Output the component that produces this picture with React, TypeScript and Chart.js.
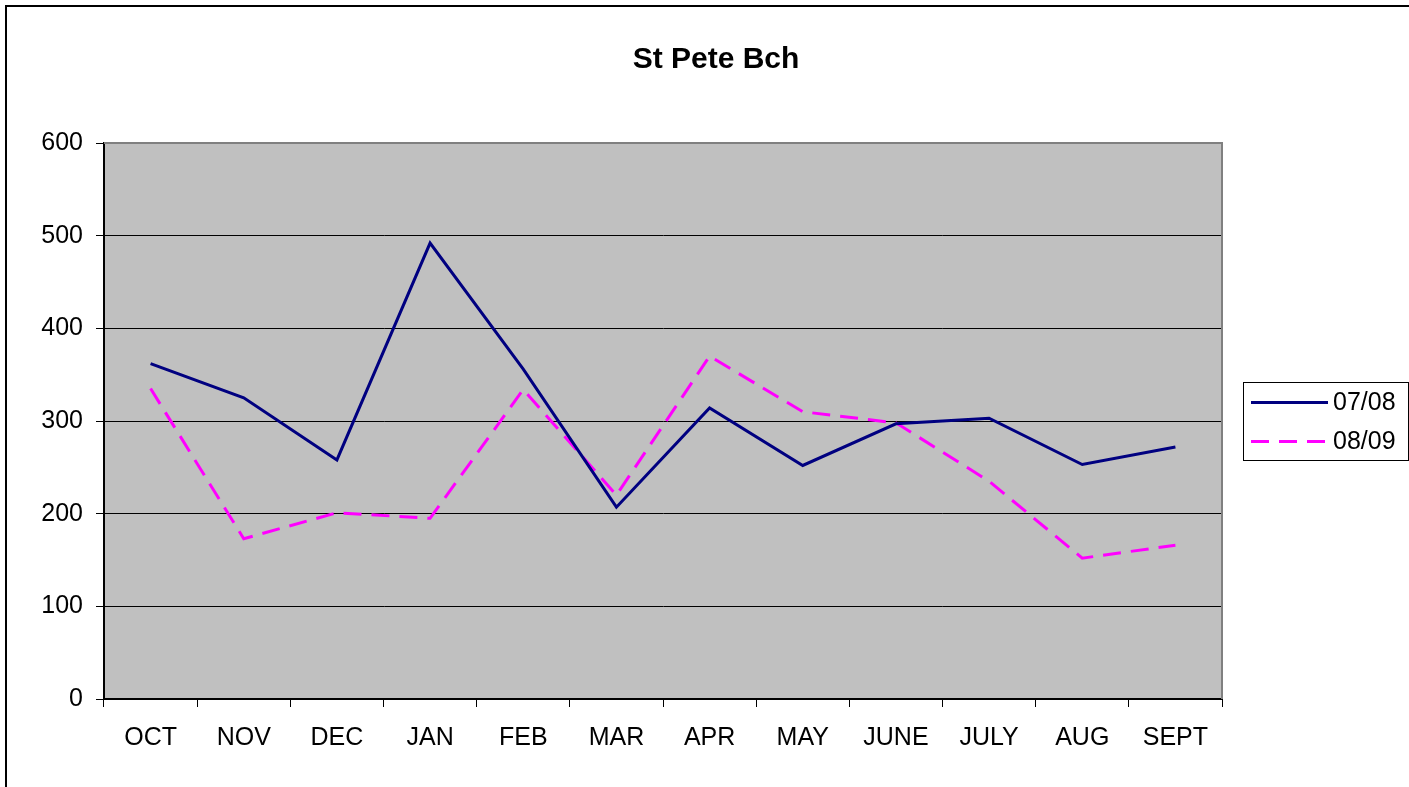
import React, { useEffect, useRef } from 'react';
import { Chart, registerables } from 'chart.js';

Chart.register(...registerables);

const chartTitle = 'St Pete Bch';
const categories = ['OCT', 'NOV', 'DEC', 'JAN', 'FEB', 'MAR', 'APR', 'MAY', 'JUNE', 'JULY', 'AUG', 'SEPT'];
const seriesLabels = ['07/08', '08/09'];
const series0708 = [362, 325, 258, 492, 356, 207, 314, 252, 297, 303, 253, 272];
const series0809 = [335, 173, 201, 195, 334, 220, 370, 310, 298, 235, 152, 166];
const yMin = 0;
const yMax = 600;
const yStep = 100;

const FONT = '"Liberation Sans", Arial, Helvetica, sans-serif';

const framePlugin = {
  id: 'framePlugin',
  beforeDraw(chart: any) {
    const { ctx, chartArea: a } = chart;
    ctx.save();
    ctx.fillStyle = '#ffffff';
    ctx.fillRect(0, 0, chart.width, chart.height);
    // outer chart border
    ctx.strokeStyle = '#000000';
    ctx.lineWidth = 2;
    ctx.beginPath();
    ctx.moveTo(6, chart.height + 4);
    ctx.lineTo(6, 6);
    ctx.lineTo(chart.width + 4, 6);
    ctx.stroke();
    // plot background
    ctx.fillStyle = '#C0C0C0';
    ctx.fillRect(a.left, a.top, a.right - a.left, a.bottom - a.top);
    // title
    ctx.fillStyle = '#000000';
    ctx.font = `bold 30px ${FONT}`;
    ctx.textAlign = 'center';
    ctx.textBaseline = 'alphabetic';
    ctx.fillText(chartTitle, 716, 68);
    ctx.restore();
  },
  beforeDatasetsDraw(chart: any) {
    const { ctx, chartArea: a } = chart;
    ctx.save();
    ctx.strokeStyle = '#808080';
    ctx.lineWidth = 2;
    ctx.beginPath();
    ctx.moveTo(a.left, a.top);
    ctx.lineTo(a.right, a.top);
    ctx.lineTo(a.right, a.bottom);
    ctx.stroke();
    ctx.restore();
  },
  afterDraw(chart: any) {
    const { ctx } = chart;
    ctx.save();
    // legend box
    ctx.strokeStyle = '#000000';
    ctx.lineWidth = 1;
    ctx.strokeRect(1243.5, 382.5, 165, 78);
    chart.data.datasets.forEach((ds: any, i: number) => {
      const y = 402.5 + i * 39;
      ctx.strokeStyle = ds.borderColor;
      ctx.lineWidth = ds.borderWidth;
      ctx.setLineDash(ds.borderDash || []);
      ctx.beginPath();
      ctx.moveTo(1251, y);
      ctx.lineTo(1328, y);
      ctx.stroke();
      ctx.setLineDash([]);
      ctx.fillStyle = '#000000';
      ctx.font = `25px ${FONT}`;
      ctx.textAlign = 'left';
      ctx.textBaseline = 'middle';
      ctx.fillText(ds.label, 1333, y + 1);
    });
    ctx.restore();
  },
};

export default function App() {
  const canvasRef = useRef<HTMLCanvasElement | null>(null);

  useEffect(() => {
    const canvas = canvasRef.current;
    if (!canvas) return;
    const chart = new Chart(canvas, {
      type: 'line',
      data: {
        labels: categories,
        datasets: [
          {
            label: seriesLabels[0],
            data: series0708,
            borderColor: '#000080',
            backgroundColor: '#000080',
            borderWidth: 3,
            pointRadius: 0,
            tension: 0,
            fill: false,
          },
          {
            label: seriesLabels[1],
            data: series0809,
            borderColor: '#FF00FF',
            backgroundColor: '#FF00FF',
            borderWidth: 3,
            borderDash: [18, 10],
            pointRadius: 0,
            tension: 0,
            fill: false,
          },
        ],
      },
      options: {
        responsive: false,
        animation: false,
        devicePixelRatio: 1,
        layout: { padding: { left: 0, right: 187, top: 143, bottom: 0 } },
        plugins: {
          legend: { display: false },
          title: { display: false },
          tooltip: { enabled: false },
        },
        scales: {
          x: {
            type: 'category',
            offset: true,
            grid: {
              offset: true,
              drawOnChartArea: false,
              drawTicks: true,
              tickLength: 8,
              tickColor: '#000000',
              color: '#000000',
              lineWidth: 1,
            },
            border: { display: true, color: '#000000', width: 2 },
            ticks: {
              color: '#000000',
              font: { family: FONT, size: 25 },
              padding: 16,
              maxRotation: 0,
              autoSkip: false,
            },
            afterFit(scale: any) {
              scale.height = 88;
            },
          },
          y: {
            min: yMin,
            max: yMax,
            grid: {
              color: (c: any) => (c.tick && c.tick.value === yMax ? 'rgba(0,0,0,0)' : '#000000'),
              tickColor: '#000000',
              lineWidth: 1,
              tickLength: 8,
              drawTicks: true,
            },
            border: { display: true, color: '#000000', width: 2 },
            ticks: {
              stepSize: yStep,
              color: '#000000',
              font: { family: FONT, size: 25 },
              padding: 13,
            },
            afterFit(scale: any) {
              scale.width = 104;
            },
          },
        },
      },
      plugins: [framePlugin],
    });
    return () => {
      chart.destroy();
    };
  }, []);

  return (
    <div style={{ position: 'fixed', left: 0, top: 0, width: 1409, height: 787, background: '#fff' }}>
      <canvas ref={canvasRef} width={1409} height={787} style={{ display: 'block', width: 1409, height: 787 }} />
    </div>
  );
}
